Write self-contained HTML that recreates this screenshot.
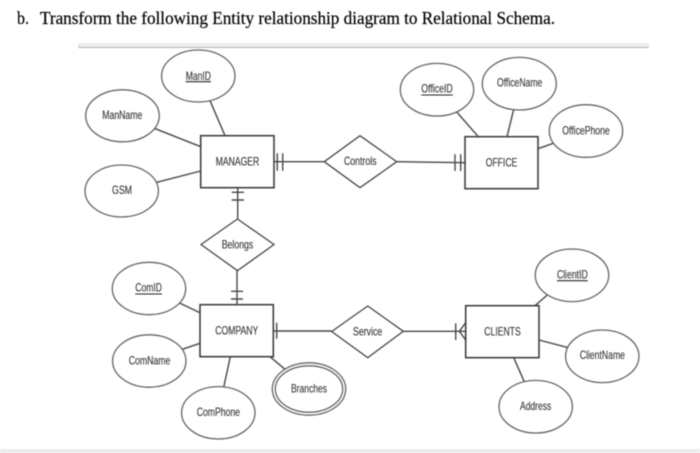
<!DOCTYPE html>
<html>
<head>
<meta charset="utf-8">
<style>
html,body{margin:0;padding:0;background:#fff;width:700px;height:453px;overflow:hidden}
svg{display:block;filter:blur(0.45px)}
.s{fill:#fff;stroke:#484848;stroke-width:1.3}
.e{fill:#fff;stroke:#646464;stroke-width:1.3}
.r{fill:#fff;stroke:#404040;stroke-width:1.6}
.l{stroke:#484848;stroke-width:1.4;fill:none}
.u{stroke:#222;stroke-width:1.1}
.t{font-family:"Liberation Sans",sans-serif;font-size:12px;fill:#333;stroke:#333;stroke-width:0.12}
.h{font-family:"Liberation Serif",serif;font-size:17.5px;fill:#000;stroke:#000;stroke-width:0.2}
</style>
</head>
<body>
<svg width="700" height="453" viewBox="0 0 700 453" xmlns="http://www.w3.org/2000/svg">
<rect width="700" height="453" fill="#fff"/>
<text class="h" x="17" y="24" textLength="12" lengthAdjust="spacingAndGlyphs">b.</text>
<text class="h" x="40" y="24" textLength="515" lengthAdjust="spacingAndGlyphs">Transform the following Entity relationship diagram to Relational Schema.</text>
<rect x="78" y="43" width="571" height="4" fill="#ececec"/>
<rect x="78" y="47" width="571" height="1" fill="#b5b5b5"/>
<rect x="0" y="449" width="700" height="4" fill="#ededed"/>

<!-- connectors -->
<g class="l">
<path d="M210 100.7L225 135.7"/>
<path d="M154.3 128.3L200.7 146.7"/>
<path d="M156.7 182.3L200.7 171"/>
<path d="M274 161.7H324.3"/>
<path d="M277.3 153.3V170.7M282.7 153.3V170.7"/>
<path d="M237.7 187.7V219"/>
<path d="M231.7 192.3H244M231.7 200H244"/>
<path d="M456.7 112L478.3 136.7"/>
<path d="M513.7 109.3L507 136.7"/>
<path d="M553.3 143.3L538 148.7"/>
<path d="M396.7 161.7L465 162.7"/>
<path d="M455 154.3V171M460.7 154.3V171"/>
<path d="M237 270.7V304.7"/>
<path d="M231 291.3H243M231 299H243"/>
<path d="M180 303.3L200 312.7"/>
<path d="M182.3 349.3L200 343.3"/>
<path d="M230.3 356.7L223.7 387.3"/>
<path d="M270 356.7L285 369.3"/>
<path d="M273.3 331H331.7"/>
<path d="M276.7 322.7V338.7"/>
<path d="M403.3 331.3H465.7"/>
<path d="M455.7 323.3V340"/>
<path d="M459.3 331.3L465.7 322.7M459.3 331.3L465.7 340"/>
<path d="M547.3 295L535 305.7"/>
<path d="M539 340L568.3 347.7"/>
<path d="M513.7 357.7L524.7 382.7"/>
</g>

<!-- entities -->
<rect class="r" x="200.7" y="135.7" width="73.3" height="52"/>
<rect class="r" x="465" y="136.7" width="73" height="52"/>
<rect class="r" x="200" y="304.7" width="73.3" height="52"/>
<rect class="r" x="465.7" y="305.7" width="73.3" height="52"/>

<!-- relationships -->
<polygon class="s" points="324.3,161.7 360,135.7 396.7,161.7 360,187.7"/>
<polygon class="s" points="201,244.5 237.5,219 274,244.5 237.5,270.7"/>
<polygon class="s" points="331.7,331.5 367.7,306 403.3,331.3 367.7,357.7"/>

<!-- attributes -->
<ellipse class="e" cx="198.3" cy="76" rx="36.7" ry="26"/>
<ellipse class="e" cx="122.5" cy="115.8" rx="36.8" ry="26"/>
<ellipse class="e" cx="121.7" cy="191" rx="36.7" ry="26"/>
<ellipse class="e" cx="437" cy="89.7" rx="36.7" ry="26.3"/>
<ellipse class="e" cx="519.3" cy="83.7" rx="37" ry="26.3"/>
<ellipse class="e" cx="586" cy="131" rx="36.7" ry="26.3"/>
<ellipse class="e" cx="149" cy="288.5" rx="36.7" ry="26.2"/>
<ellipse class="e" cx="149.3" cy="361" rx="36.7" ry="26.2"/>
<ellipse class="e" cx="218.3" cy="412.8" rx="36.7" ry="26.2"/>
<ellipse class="e" cx="309" cy="389" rx="36.7" ry="26.2"/>
<ellipse class="e" cx="309" cy="389" rx="33.7" ry="23.2"/>
<ellipse class="e" cx="572" cy="275.3" rx="36.7" ry="26.3"/>
<ellipse class="e" cx="602.3" cy="356.3" rx="36.7" ry="26.3"/>
<ellipse class="e" cx="535.7" cy="406.7" rx="36.7" ry="26.3"/>

<!-- labels -->
<g class="t">
<text x="185.7" y="80" textLength="25.3" lengthAdjust="spacingAndGlyphs">ManID</text>
<text x="102.3" y="119" textLength="40" lengthAdjust="spacingAndGlyphs">ManName</text>
<text x="112" y="194" textLength="20" lengthAdjust="spacingAndGlyphs">GSM</text>
<text x="215.7" y="165.7" textLength="43.6" lengthAdjust="spacingAndGlyphs">MANAGER</text>
<text x="344" y="165" textLength="32.5" lengthAdjust="spacingAndGlyphs">Controls</text>
<text x="421.3" y="92.7" textLength="31.4" lengthAdjust="spacingAndGlyphs">OfficeID</text>
<text x="497" y="86.7" textLength="45.3" lengthAdjust="spacingAndGlyphs">OfficeName</text>
<text x="562.3" y="134.3" textLength="47.4" lengthAdjust="spacingAndGlyphs">OfficePhone</text>
<text x="485.7" y="166.7" textLength="31.6" lengthAdjust="spacingAndGlyphs">OFFICE</text>
<text x="221.7" y="248.7" textLength="31.6" lengthAdjust="spacingAndGlyphs">Belongs</text>
<text x="135.3" y="291.7" textLength="26.7" lengthAdjust="spacingAndGlyphs">ComID</text>
<text x="215.3" y="334.3" textLength="43" lengthAdjust="spacingAndGlyphs">COMPANY</text>
<text x="128.7" y="364.3" textLength="41.6" lengthAdjust="spacingAndGlyphs">ComName</text>
<text x="196.7" y="416" textLength="43.3" lengthAdjust="spacingAndGlyphs">ComPhone</text>
<text x="291" y="392.3" textLength="36" lengthAdjust="spacingAndGlyphs">Branches</text>
<text x="353" y="335.3" textLength="29.3" lengthAdjust="spacingAndGlyphs">Service</text>
<text x="484.3" y="335.3" textLength="36.4" lengthAdjust="spacingAndGlyphs">CLIENTS</text>
<text x="557" y="278.3" textLength="30.7" lengthAdjust="spacingAndGlyphs">ClientID</text>
<text x="579.7" y="359" textLength="45.3" lengthAdjust="spacingAndGlyphs">ClientName</text>
<text x="520" y="410" textLength="31.3" lengthAdjust="spacingAndGlyphs">Address</text>
</g>
<g class="u">
<path d="M185.7 81.7H211"/>
<path d="M421.3 95H452.7"/>
<path d="M135.3 294H162"/>
<path d="M557 280.7H587.7"/>
</g>
</svg>
</body>
</html>
